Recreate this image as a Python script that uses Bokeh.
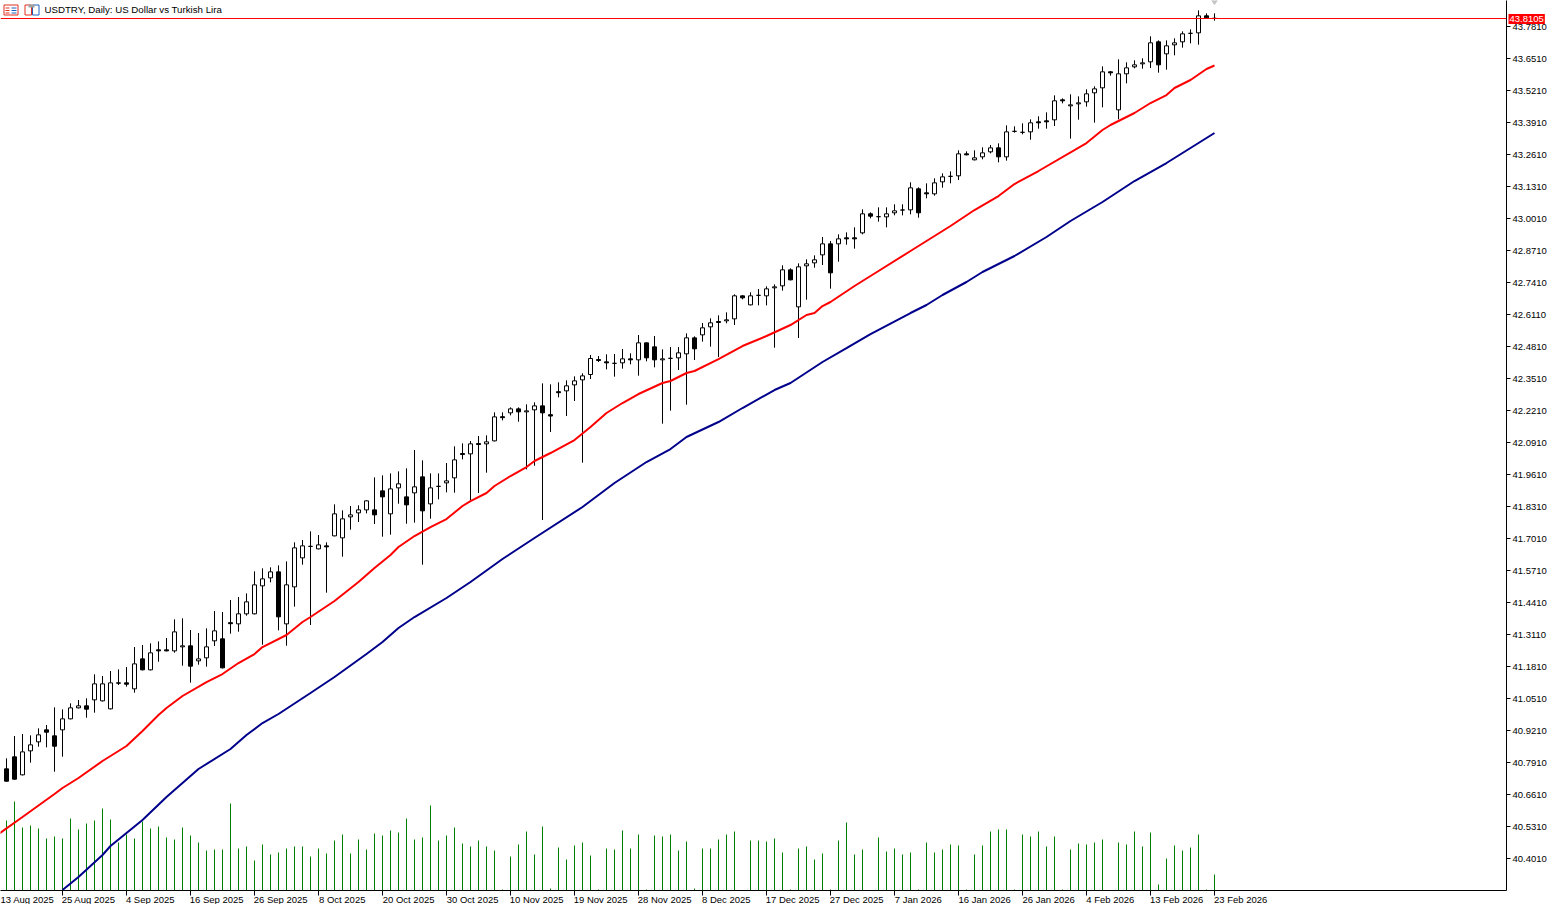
from bokeh.plotting import figure
from bokeh.models import (ColumnDataSource, FixedTicker, Label, LinearAxis,
                          Range1d, Span, BoxAnnotation)
from bokeh.embed import file_html
from bokeh.resources import INLINE

FONT = "Liberation Sans"

first_index = -1
opens = [40.7281,40.7653,40.8140,40.7409,40.8384,40.8749,40.9237,40.8993,40.9237,40.9684,41.0131,41.0212,41.0456,41.0415,41.0090,41.1146,41.1146,41.0903,41.2121,41.1675,41.2487,41.2487,41.2446,41.2609,41.2650,41.2040,41.2162,41.2853,41.2934,41.3591,41.3543,41.3950,41.3950,41.5087,41.5412,41.5656,41.3543,41.5046,41.6224,41.6691,41.6590,41.6712,41.7118,41.7037,41.7890,41.8052,41.8174,41.8174,41.8946,41.8012,41.9068,41.8702,41.8865,41.9515,41.8418,41.9129,41.9271,41.9474,42.0463,42.0449,42.0869,42.0856,42.0977,42.1959,42.2115,42.2277,42.2156,42.2237,42.2399,42.2040,42.2975,42.3009,42.3252,42.3456,42.3673,42.4282,42.4188,42.4127,42.4147,42.4309,42.4269,42.4959,42.4797,42.4269,42.4330,42.4350,42.4513,42.5162,42.5284,42.5609,42.5826,42.5853,42.5934,42.6869,42.6503,42.6889,42.6869,42.7194,42.7275,42.7925,42.6422,42.8088,42.8209,42.8534,42.8981,42.8981,42.9225,42.9225,42.9428,43.0200,43.0085,43.0078,43.0241,43.0356,43.0362,43.1216,43.1053,43.1012,43.1500,43.1723,43.1744,43.2638,43.2394,43.2516,43.2719,43.2881,43.2516,43.3552,43.3511,43.3531,43.3938,43.3978,43.4019,43.4831,43.4588,43.4669,43.4750,43.5116,43.5319,43.5969,43.4425,43.5888,43.6172,43.6294,43.6375,43.7188,43.6700,43.7066,43.7188,43.7533,43.7553,43.8244,43.8142]
closes = [40.7281,40.7152,40.7233,40.8343,40.8628,40.9034,40.9142,40.8574,40.9684,41.0131,41.0212,41.0077,41.1106,41.1106,41.1146,41.1133,41.1092,41.1918,41.1675,41.2365,41.2446,41.2446,41.3218,41.2650,41.1823,41.2121,41.2609,41.3259,41.1756,41.3550,41.3950,41.4437,41.5128,41.5371,41.5656,41.3828,41.5128,41.6631,41.6712,41.6691,41.6752,41.6671,41.8012,41.7809,41.7971,41.8174,41.8540,41.7971,41.8702,41.9027,41.9231,41.8377,41.9109,41.8134,41.9068,41.9129,41.9352,42.0206,42.0422,42.0856,42.0828,42.0937,42.1952,42.1919,42.2277,42.2156,42.2196,42.2399,42.2115,42.1986,42.2934,42.3212,42.3415,42.3618,42.4323,42.4242,42.4147,42.4127,42.4309,42.4269,42.4959,42.4350,42.4269,42.4309,42.4330,42.4553,42.5162,42.4716,42.5569,42.5772,42.5786,42.5894,42.6869,42.6788,42.6869,42.6889,42.7153,42.7234,42.7925,42.7519,42.8047,42.8169,42.8331,42.8981,42.7803,42.9184,42.9184,42.9184,43.0200,43.0105,43.0085,43.0200,43.0322,43.0356,43.1256,43.0241,43.1012,43.1459,43.1703,43.1723,43.2638,43.2597,43.2475,43.2678,43.2881,43.2516,43.3531,43.3552,43.3511,43.3897,43.3897,43.3938,43.4791,43.4791,43.4628,43.4709,43.5075,43.5278,43.5969,43.5928,43.5888,43.6131,43.6253,43.6334,43.7147,43.6253,43.7025,43.7147,43.7513,43.7533,43.8244,43.8163,43.8142]
highs = [40.7301,40.8079,40.8987,40.9068,40.9014,40.9298,40.9433,41.0151,41.0070,41.0314,41.0449,41.0517,41.1492,41.1424,41.1627,41.1695,41.1790,41.2602,41.2683,41.2751,41.2832,41.2968,41.3726,41.3767,41.3293,41.3171,41.3360,41.4065,41.4024,41.4511,41.4633,41.4782,41.5676,41.5798,41.5839,41.5920,41.6082,41.6854,41.6949,41.7301,41.7152,41.6854,41.8398,41.8154,41.8330,41.8357,41.8560,41.9495,41.9576,41.9657,41.9738,41.9860,42.0605,42.0185,41.9657,41.9657,42.0077,42.0754,42.0876,42.0971,42.1174,42.1201,42.2135,42.2135,42.2338,42.2338,42.2460,42.2541,42.3313,42.3273,42.3354,42.3435,42.3598,42.3720,42.4465,42.4424,42.4492,42.4506,42.4709,42.4533,42.5278,42.4980,42.5237,42.4695,42.4790,42.4790,42.5345,42.5223,42.5765,42.5955,42.6077,42.6198,42.6930,42.6889,42.7011,42.7146,42.7255,42.7336,42.8108,42.7986,42.8189,42.8352,42.8514,42.9259,42.9096,42.9367,42.9448,42.9652,43.0383,43.0261,43.0464,43.0464,43.0586,43.0586,43.1480,43.1277,43.1439,43.1642,43.1845,43.1927,43.2780,43.2739,43.2780,43.2902,43.2996,43.3064,43.3795,43.3755,43.3877,43.4039,43.4161,43.4323,43.5014,43.4892,43.5055,43.4973,43.5258,43.5380,43.6192,43.5989,43.6477,43.6355,43.6436,43.6517,43.7411,43.7248,43.7248,43.7330,43.7614,43.7695,43.8467,43.8345,43.8345]
lows = [40.7261,40.7131,40.7213,40.7389,40.7903,40.8553,40.8526,40.7538,40.8147,40.9664,41.0110,40.9731,40.9934,41.0395,41.0070,41.1058,41.0991,41.0747,41.1654,41.1654,41.2006,41.2426,41.2372,41.1844,41.1153,41.1884,41.1803,41.2643,41.1735,41.3144,41.3225,41.3875,41.3929,41.2697,41.5229,41.3279,41.2656,41.4241,41.5947,41.3496,41.6570,41.4809,41.7098,41.6272,41.7369,41.7680,41.8032,41.7599,41.7084,41.7165,41.8425,41.7612,41.7653,41.5947,41.7815,41.8601,41.8885,41.8872,42.0226,41.8560,41.8858,41.9684,42.0957,42.1810,42.2013,42.1756,41.9820,41.9969,41.7761,42.1336,42.2745,42.1986,42.2596,42.0090,42.3490,42.4181,42.3883,42.3585,42.3910,42.4086,42.3626,42.4208,42.3964,42.1676,42.2204,42.3856,42.2447,42.4262,42.5007,42.4804,42.4384,42.5752,42.5684,42.6727,42.6483,42.6483,42.6483,42.4763,42.7079,42.7498,42.5156,42.6713,42.8013,42.8121,42.7160,42.8257,42.8947,42.8785,42.9367,43.0017,42.9882,42.9652,43.0139,43.0139,43.0180,43.0044,43.0830,43.0938,43.1263,43.1439,43.1574,43.2577,43.2373,43.2414,43.2658,43.2292,43.2360,43.3497,43.3430,43.3213,43.3660,43.3660,43.3768,43.4689,43.3254,43.4026,43.4554,43.3904,43.4527,43.5813,43.4039,43.5502,43.6111,43.6097,43.6124,43.5935,43.6057,43.6639,43.6951,43.7127,43.7072,43.8142,43.8047]

volumes = [70,89,63,65,62,52,54,52,72,61,67,70,82,71,48,56,52,69,62,64,53,51,63,55,48,40,41,41,87,42,44,30,46,36,38,42,44,44,34,42,37,50,56,37,51,41,57,55,60,58,72,51,53,85,50,55,63,47,44,50,44,40,1,34,46,59,36,64,2,43,31,45,48,35,1,42,41,60,42,56,1,55,54,56,40,49,2,42,42,51,56,59,0,50,50,49,52,38,1,42,44,31,37,1,50,68,36,41,0,53,39,42,36,38,1,48,38,41,46,45,1,36,45,59,61,61,1,56,54,59,44,54,1,41,47,46,48,51,0,48,46,59,44,58,6,32,45,40,43,56,1,16]

ma_fast_index = [-1,2,6,7,9,12,15,17,19,20,22,25,27,29,31,32,35,37,38,41,44,46,48,49,51,53,55,57,58,60,61,63,65,66,68,71,73,74,75,77,79,82,83,85,86,89,92,95,98,100,101,102,103,106,109,113,115,118,121,124,126,129,135,137,138,140,141,143,145,146,148,150,151]
ma_fast = [40.5005,40.5696,40.6630,40.6874,40.7280,40.7971,40.8580,40.9190,40.9840,41.0124,41.0612,41.1180,41.1505,41.1952,41.2318,41.2602,41.3090,41.3618,41.3821,41.4471,41.5243,41.5812,41.6340,41.6665,41.7112,41.7477,41.7802,41.8330,41.8533,41.8859,41.9143,41.9549,41.9915,42.0159,42.0484,42.1012,42.1540,42.1824,42.2109,42.2515,42.2880,42.3327,42.3409,42.3734,42.3815,42.4302,42.4830,42.5237,42.5683,42.6090,42.6171,42.6455,42.6618,42.7268,42.7877,42.8690,42.9096,42.9705,43.0355,43.0924,43.1412,43.1940,43.3077,43.3605,43.3809,43.4134,43.4296,43.4702,43.5027,43.5312,43.5637,43.6083,43.6226]
ma_slow_index = [7,9,12,13,15,17,20,21,24,28,30,32,34,38,41,45,47,49,51,55,58,62,66,72,74,76,80,83,85,89,92,96,98,102,105,108,113,115,117,120,122,124,126,130,133,137,141,143,145,147,151]
ma_slow = [40.2731,40.3259,40.4153,40.4518,40.5046,40.5574,40.6509,40.6793,40.7646,40.8459,40.9028,40.9515,40.9881,41.0734,41.1384,41.2318,41.2806,41.3374,41.3821,41.4593,41.5243,41.6178,41.7031,41.8290,41.8778,41.9265,42.0118,42.0646,42.1134,42.1743,42.2312,42.3043,42.3328,42.4181,42.4749,42.5318,42.6171,42.6496,42.6903,42.7431,42.7837,42.8162,42.8487,42.9259,42.9909,43.0681,43.1534,43.1899,43.2265,43.2671,43.3484]

price_ticks = [43.781,43.651,43.521,43.391,43.261,43.131,43.001,42.871,42.741,42.611,42.481,42.351,42.221,42.091,41.961,41.831,41.701,41.571,41.441,41.311,41.181,41.051,40.921,40.791,40.661,40.531,40.401]
date_tick_index = [-1,7,15,23,31,39,47,55,63,71,79,87,95,103,111,119,127,135,143,151]
date_labels = ["13 Aug 2025","25 Aug 2025","4 Sep 2025","16 Sep 2025","26 Sep 2025","8 Oct 2025","20 Oct 2025","30 Oct 2025","10 Nov 2025","19 Nov 2025","28 Nov 2025","8 Dec 2025","17 Dec 2025","27 Dec 2025","7 Jan 2026","16 Jan 2026","26 Jan 2026","4 Feb 2026","13 Feb 2026","23 Feb 2026"]

title_text = "USDTRY, Daily:  US Dollar vs Turkish Lira"
last_price = "43.8105"
last_price_level = 43.8135
marker_level = 43.8887

idx = [first_index + k for k in range(len(opens))]
src = ColumnDataSource(dict(
    x=idx, o=opens, c=closes, h=highs, l=lows,
    top=[max(a, b) for a, b in zip(opens, closes)],
    bottom=[min(a, b) for a, b in zip(opens, closes)],
    fill=["#000000" if c < o else "#ffffff" for o, c in zip(opens, closes)],
))

FRAME_W, FRAME_H = 1506, 890
PRICE_TOP = 43.8867
p = figure(width=1550, height=904, frame_width=FRAME_W, frame_height=FRAME_H,
           x_range=Range1d(-0.75, -0.75 + FRAME_W / 8),
           y_range=Range1d(PRICE_TOP - FRAME_H * 0.0040625, PRICE_TOP),
           output_backend="svg", toolbar_location=None, x_axis_location=None, y_axis_location=None,
           min_border_left=0, min_border_top=0, min_border_right=0, min_border_bottom=0,
           background_fill_color="#ffffff", border_fill_color="#ffffff", outline_line_color=None)
p.grid.visible = False
p.extra_y_ranges = {"vol": Range1d(0, FRAME_H)}

yax = LinearAxis(ticker=FixedTicker(ticks=price_ticks), axis_line_color="#000000",
                 major_tick_line_color="#000000", major_tick_out=4, major_tick_in=0,
                 minor_tick_line_color=None, major_label_standoff=2,
                 major_label_text_font=FONT, major_label_text_font_size="9.5px",
                 major_label_text_color="#000000",
                 major_label_overrides={t: f"{t:.4f}" for t in price_ticks})
p.add_layout(yax, "right")

# Labels start at their tick in the reference: label centres sit half a text width to the right.
label_centres = [t + len(s) * 4.75 / 2 / 8 for t, s in zip(date_tick_index, date_labels)]
xax = LinearAxis(ticker=FixedTicker(ticks=label_centres, minor_ticks=date_tick_index),
                 axis_line_color="#000000", major_tick_line_color=None,
                 major_tick_out=0, major_tick_in=0,
                 minor_tick_line_color="#000000", minor_tick_out=5, minor_tick_in=0,
                 major_label_standoff=-2, major_label_text_font=FONT,
                 major_label_text_font_size="9.5px", major_label_text_color="#000000",
                 major_label_overrides=dict(zip(label_centres, date_labels)))
p.add_layout(xax, "below")

p.segment(x0=idx[1:], x1=idx[1:], y0=[0]*len(volumes), y1=volumes, y_range_name="vol",
          line_color="#008000", line_width=1)
p.segment(x0="x", x1="x", y0="l", y1="h", source=src, line_color="#000000", line_width=1)
p.vbar(x="x", width=0.5, top="top", bottom="bottom", source=src,
       fill_color="fill", line_color="#000000", line_width=1)
p.line(ma_slow_index, ma_slow, line_color="#00008b", line_width=2)
p.line(ma_fast_index, ma_fast, line_color="#ff0000", line_width=2)
p.scatter([151], [marker_level], marker="diamond", size=9, color="#c4c4c4")

p.add_layout(Span(location=last_price_level, dimension="width", line_color="#ff0000", line_width=1))

def icon_box(x0, y0, x1, y1, fill=None, line=None):
    p.add_layout(BoxAnnotation(left=x0, right=x1, top=FRAME_H - y0, bottom=FRAME_H - y1,
                               left_units="screen", right_units="screen",
                               top_units="screen", bottom_units="screen",
                               fill_color=fill, fill_alpha=1 if fill else 0,
                               line_color=line, line_alpha=1 if line else 0, line_width=1))

# The last-price tag sits over the price axis, so it belongs to the right-hand panel,
# whose own left edge lies at the canvas' right edge.
p.add_layout(Label(x=1509 - 1550, y=FRAME_H - 23.5, x_units="screen", y_units="screen", text=last_price,
                   text_font=FONT, text_font_size="9.5px", text_color="#ffffff",
                   background_fill_color="#ff0000", padding=(1, 2)), "right")
p.add_layout(Label(x=44, y=FRAME_H - 14, x_units="screen", y_units="screen", text=title_text,
                   text_font=FONT, text_font_size="9.7px", text_color="#000000"))

icon_box(3.5, 4.5, 17.5, 14.5, "#ffffff", "#e03020")
for row in (7.5, 10, 12.5):
    icon_box(5, row - .5, 9, row + .5, "#e03020")
    icon_box(11, row - .5, 16, row + .5, "#2060c0")
icon_box(24.5, 4.5, 31, 14.5, "#ffffff", "#e03020")
icon_box(32, 4.5, 38.5, 14.5, "#ffffff", "#2060c0")
icon_box(28, 4, 34, 7, "#a0a0a0")

open("out.html", "w").write(file_html(p, INLINE))
